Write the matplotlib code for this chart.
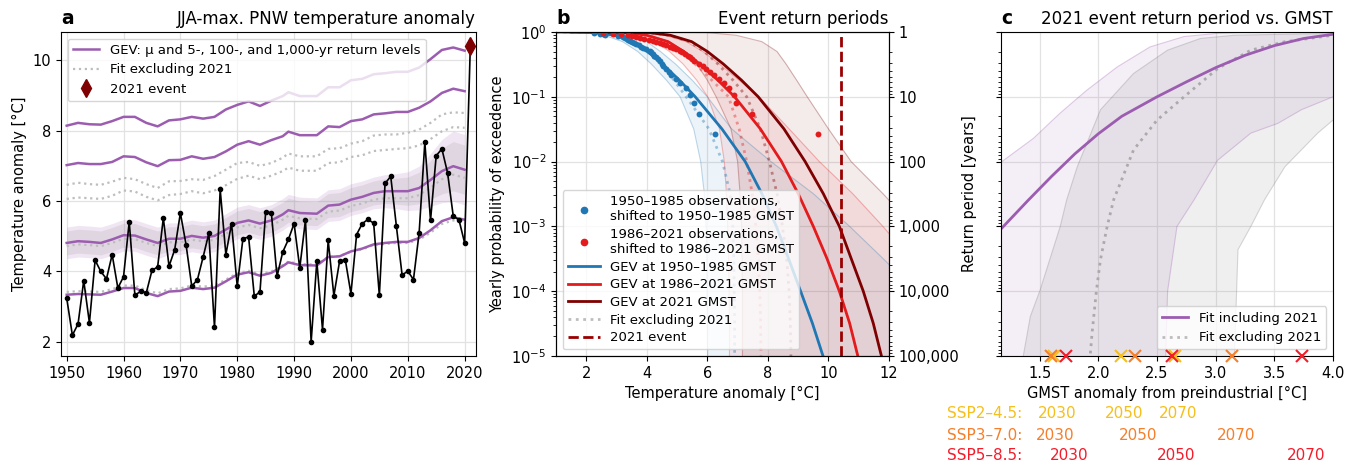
import numpy as np
import matplotlib
matplotlib.use("Agg")
from matplotlib import pyplot as plt
from matplotlib.lines import Line2D
from matplotlib import ticker
from matplotlib.transforms import blended_transform_factory

# ---------------- data: panel a ----------------
obs_years = np.arange(1950, 2022)
obs_temp = [3.25, 2.19, 2.51, 3.74, 2.54, 4.32, 4.00, 3.79, 4.48, 3.53,
            3.85, 5.41, 3.32, 3.44, 3.39, 4.03, 4.13, 5.52, 4.15, 4.62,
            5.66, 4.76, 3.58, 3.77, 4.41, 5.08, 2.41, 6.33, 4.48, 5.36,
            3.58, 4.93, 4.98, 3.30, 3.42, 5.69, 5.67, 3.86, 4.55, 4.91,
            5.36, 4.10, 5.46, 2.00, 4.29, 2.35, 4.88, 3.31, 4.29, 4.34,
            3.37, 5.05, 5.36, 5.48, 5.37, 3.32, 6.50, 6.70, 5.28, 3.90,
            4.01, 3.77, 5.10, 7.67, 5.45, 7.29, 7.48, 6.80, 5.57, 5.47,
            4.81, 10.40]
event_year = 2021
event_temp = 10.40

line_years = [1950, 1952, 1954, 1956, 1958, 1960, 1962, 1964, 1966, 1968,
              1970, 1972, 1974, 1976, 1978, 1980, 1982, 1984, 1986, 1988,
              1989, 1991, 1994, 1996, 1998, 2000, 2002, 2004, 2006, 2008,
              2010, 2012, 2014, 2016, 2018, 2020]
# GEV fit including 2021: mu, 5-, 100-, 1000-yr return levels
mu_incl = [3.34, 3.36, 3.35, 3.34, 3.43, 3.53, 3.53, 3.39, 3.30, 3.43, 3.45, 3.54,
           3.50, 3.54, 3.72, 3.91, 3.98, 3.88, 3.96, 4.15, 4.26, 4.18, 4.17, 4.41,
           4.43, 4.57, 4.65, 4.77, 4.81, 4.84, 4.84, 4.95, 5.17, 5.43, 5.54, 5.47]
rl5_incl = [4.81, 4.86, 4.84, 4.81, 4.91, 5.03, 5.02, 4.91, 4.81, 4.93, 4.93, 5.01,
            4.96, 5.01, 5.19, 5.38, 5.45, 5.36, 5.45, 5.62, 5.74, 5.66, 5.64, 5.87,
            5.90, 6.04, 6.12, 6.23, 6.28, 6.28, 6.28, 6.37, 6.60, 6.85, 6.99, 6.89]
rl100_incl = [7.02, 7.08, 7.05, 7.05, 7.11, 7.27, 7.25, 7.10, 6.99, 7.16, 7.17, 7.27,
              7.20, 7.25, 7.41, 7.60, 7.70, 7.60, 7.73, 7.84, 7.97, 7.87, 7.87, 8.12,
              8.10, 8.27, 8.32, 8.46, 8.49, 8.53, 8.53, 8.65, 8.83, 9.07, 9.19, 9.12]
rl1000_incl = [8.14, 8.22, 8.18, 8.17, 8.27, 8.39, 8.39, 8.22, 8.12, 8.29, 8.32, 8.39,
               8.34, 8.39, 8.60, 8.73, 8.83, 8.70, 8.85, 8.98, 9.09, 8.98, 8.98, 9.23,
               9.23, 9.43, 9.47, 9.60, 9.63, 9.67, 9.67, 9.79, 10.03, 10.29, 10.36, 10.27]
# fit excluding 2021
mu_excl = [3.42, 3.44, 3.43, 3.42, 3.50, 3.60, 3.60, 3.47, 3.38, 3.50, 3.52, 3.60,
           3.57, 3.60, 3.77, 3.95, 4.02, 3.93, 4.00, 4.18, 4.28, 4.21, 4.20, 4.42,
           4.44, 4.56, 4.63, 4.75, 4.78, 4.81, 4.81, 4.90, 5.10, 5.35, 5.45, 5.39]
rl5_excl = [4.72, 4.77, 4.75, 4.72, 4.81, 4.93, 4.92, 4.81, 4.72, 4.83, 4.83, 4.90,
            4.86, 4.90, 5.07, 5.25, 5.32, 5.23, 5.31, 5.47, 5.58, 5.51, 5.49, 5.70,
            5.73, 5.86, 5.93, 6.04, 6.08, 6.08, 6.08, 6.17, 6.38, 6.62, 6.75, 6.66]
rl100_excl = [6.06, 6.10, 6.08, 6.06, 6.15, 6.30, 6.27, 6.12, 6.02, 6.17, 6.20, 6.28,
              6.22, 6.30, 6.45, 6.63, 6.72, 6.62, 6.72, 6.85, 6.95, 6.86, 6.86, 7.08,
              7.10, 7.25, 7.30, 7.42, 7.45, 7.48, 7.50, 7.58, 7.76, 7.98, 8.10, 8.08]
rl1000_excl = [6.46, 6.52, 6.48, 6.46, 6.55, 6.66, 6.62, 6.48, 6.37, 6.56, 6.57, 6.62,
               6.60, 6.71, 6.89, 7.08, 7.11, 7.00, 7.08, 7.23, 7.35, 7.27, 7.27, 7.48,
               7.50, 7.63, 7.70, 7.86, 7.89, 7.89, 7.94, 8.03, 8.22, 8.46, 8.52, 8.50]
# half widths of the uncertainty bands around the 5-yr level
band_outer = [0.45, 0.45, 0.45, 0.45, 0.45, 0.45, 0.45, 0.45, 0.45, 0.45, 0.45, 0.45,
              0.45, 0.45, 0.45, 0.45, 0.45, 0.45, 0.45, 0.45, 0.45, 0.45, 0.45, 0.45,
              0.45, 0.45, 0.45, 0.45, 0.47, 0.50, 0.55, 0.62, 0.75, 0.90, 1.00, 1.00]
band_inner = [0.34, 0.34, 0.34, 0.34, 0.34, 0.34, 0.34, 0.34, 0.34, 0.34, 0.34, 0.34,
              0.34, 0.34, 0.34, 0.34, 0.34, 0.34, 0.34, 0.34, 0.34, 0.34, 0.34, 0.34,
              0.34, 0.34, 0.34, 0.34, 0.35, 0.37, 0.40, 0.45, 0.55, 0.65, 0.70, 0.70]

# ---------------- data: panel b ----------------
prob = [0.9999, 0.98, 0.89, 0.71, 0.5, 0.32, 0.18, 0.1, 0.032, 0.01,
        0.0032, 0.001, 3.2e-4, 1e-4, 3.2e-5, 1e-5]
gev_early = [1.0, 2.3, 2.95, 3.55, 4.02, 4.52, 5.08, 5.6, 6.48, 7.25, 7.8, 8.28, 8.68, 9.08, 9.47, 9.82]
gev_late = [1.5, 3.3, 4.0, 4.7, 5.22, 5.75, 6.35, 6.9, 7.75, 8.45, 9.0, 9.5, 9.95, 10.36, 10.7, 10.97]
gev_2021 = [2.2, 4.08, 4.78, 5.48, 6.0, 6.53, 7.13, 7.68, 8.53, 9.23, 9.83, 10.36, 10.75, 11.15, 11.48, 11.75]
gev_early_ex = [1.0, 2.3, 2.95, 3.55, 4.0, 4.45, 4.9, 5.3, 6.05, 6.5, 6.75, 6.84, 6.87, 6.89, 6.9, 6.9]
gev_late_ex = [1.5, 3.3, 4.0, 4.65, 5.15, 5.6, 6.15, 6.7, 7.05, 7.3, 7.48, 7.6, 7.68, 7.73, 7.76, 7.77]
gev_2021_ex = [2.2, 4.05, 4.75, 5.4, 5.9, 6.35, 6.85, 7.3, 7.75, 8.05, 8.3, 8.48, 8.62, 8.7, 8.74, 8.76]
ci_early_lo = [1.0, 1.9, 2.6, 3.2, 3.7, 4.15, 4.65, 5.1, 5.55, 5.78, 5.9, 5.96, 5.98, 5.99, 6.0, 6.01]
ci_early_hi = [1.5, 2.8, 3.4, 4.0, 4.45, 4.95, 5.5, 6.0, 6.8, 8.1, 9.5, 10.7, 11.8, 12.9, 14.0, 15.0]
ci_late_lo = [1.2, 2.8, 3.6, 4.25, 4.75, 5.2, 5.65, 6.01, 6.4, 6.56, 6.63, 6.67, 6.7, 6.72, 6.73, 6.73]
ci_late_hi = [2.0, 3.9, 4.6, 5.3, 5.85, 6.4, 7.05, 7.7, 8.7, 9.7, 10.8, 11.8, 12.7, 13.6, 14.5, 15.5]
ci_2021_lo = [1.8, 3.3, 4.1, 4.75, 5.25, 5.65, 6.0, 6.29, 6.78, 7.0, 7.08, 7.13, 7.15, 7.16, 7.16, 7.16]
ci_2021_hi = [3.0, 5.96, 6.95, 7.8, 8.3, 8.6, 8.95, 9.3, 10.0, 10.75, 11.8, 12.8, 13.8, 15.0, 16.0, 17.0]

# shifted observations, largest first
pts_early = [6.26, 5.71, 5.57, 5.41, 5.30, 5.08, 4.97, 4.80, 4.73, 4.64, 4.55, 4.51,
             4.44, 4.36, 4.31, 4.25, 4.20, 4.14, 4.09, 3.98, 3.89, 3.81, 3.74, 3.65,
             3.59, 3.52, 3.43, 3.38, 3.33, 3.28, 3.20, 3.05, 2.62, 2.55, 2.45, 2.25]
pts_late = [9.67, 7.47, 6.95, 6.88, 6.73, 6.56, 6.40, 6.23, 6.09, 5.96, 5.85, 5.74,
            5.57, 5.49, 5.41, 5.35, 5.27, 5.16, 5.08, 4.97, 4.86, 4.75, 4.64, 4.53,
            4.42, 4.31, 4.20, 4.07, 3.92, 3.78, 3.65, 3.52, 3.37, 3.15, 2.88, 2.55]

rp_ticks = [1, 10, 100, 1000, 10000, 100000]
rp_labels = ["1", "10", "100", "1,000", "10,000", "100,000"]

# ---------------- data: panel c ----------------
gmst_incl = [1.17, 1.4, 1.6, 1.8, 2.0, 2.2, 2.5, 2.75, 3.0, 3.25, 3.5, 3.75, 4.0]
logrp_incl = [3.04, 2.6, 2.23, 1.88, 1.57, 1.3, 1.0, 0.77, 0.55, 0.36, 0.21, 0.1, 0.035]
gmst_excl = [1.92, 1.93, 1.946, 1.983, 2.017, 2.075, 2.13, 2.3, 2.5, 2.73, 3.02, 3.3, 3.59, 4.0]
logrp_excl = [5.3, 5.0, 4.65, 4.0, 3.52, 3.0, 2.59, 1.82, 1.36, 1.0, 0.56, 0.28, 0.15, 0.05]
# uncertainty polygons (short-period edge, then long-period edge)
incl_top_x = [1.0, 1.17, 1.447, 1.675, 1.9, 2.16, 2.44, 2.73, 3.02, 3.3, 4.2]
incl_top_y = [2.4, 2.01, 1.64, 1.25, 0.9, 0.54, 0.23, 0.07, 0.02, 0.0, 0.0]
incl_bot_x = [1.0, 2.56, 2.574, 2.59, 2.67, 2.816, 3.016, 3.3, 3.53, 3.73, 4.0, 4.2]
incl_bot_y = [5.5, 5.5, 5.0, 4.0, 3.0, 2.59, 1.98, 1.56, 1.41, 1.2, 1.0, 0.9]
excl_top_x = [1.34, 1.36, 1.42, 1.504, 1.675, 1.73, 1.82, 2.018, 2.3, 2.59, 2.87, 3.16, 3.73, 4.2]
excl_top_y = [5.5, 5.0, 4.39, 3.98, 3.0, 2.59, 2.08, 1.2, 0.64, 0.28, 0.1, 0.05, 0.03, 0.02]
excl_bot_x = [3.15, 3.16, 3.19, 3.3, 3.416, 3.59, 3.87, 4.0, 4.2]
excl_bot_y = [5.5, 5.0, 3.36, 3.0, 2.59, 2.08, 1.56, 1.36, 1.1]

ssp_names = ["SSP2\u20134.5:", "SSP3\u20137.0:", "SSP5\u20138.5:"]
ssp_colors = ["#f5bf1c", "#f57f2a", "#f51c2a"]
ssp_years = ["2030", "2050", "2070"]
ssp_gmst = [[1.62, 2.19, 2.65],
            [1.60, 2.31, 3.14],
            [1.72, 2.63, 3.74]]

# ---------------- style ----------------
purple = "#9c5db0"
dotgray = "#bdbdbd"
blue = "#1f77b4"
red = "#e41a1c"
darkred = "#7f0000"
gridc = "#e2e2e2"
fs = 10.5

plt.rcParams["font.size"] = fs
fig = plt.figure(figsize=(13.57, 4.67), dpi=100)
bot, hgt = 111 / 467, 324 / 467
axa = fig.add_axes([61 / 1357, bot, 415 / 1357, hgt])
axb = fig.add_axes([556 / 1357, bot, 333 / 1357, hgt])
axc = fig.add_axes([1001 / 1357, bot, 332 / 1357, hgt])

# ---------------- panel a ----------------
rl5 = np.array(rl5_incl)
axa.fill_between(line_years, rl5 - np.array(band_outer), rl5 + np.array(band_outer),
                 color=purple, alpha=0.15, lw=0)
axa.fill_between(line_years, rl5 - np.array(band_inner), rl5 + np.array(band_inner),
                 color="gray", alpha=0.15, lw=0)
for d in [mu_excl, rl5_excl, rl100_excl, rl1000_excl]:
    axa.plot(line_years, d, ls=":", color=dotgray, lw=1.6)
for l in [mu_incl, rl5_incl, rl100_incl, rl1000_incl]:
    axa.plot(line_years, l, color=purple, lw=1.8)
axa.plot(obs_years, obs_temp, "-o", color="k", ms=3, lw=1.2)
axa.plot(event_year, event_temp, "d", color=darkred, ms=9, zorder=5)
axa.set_xlim(1949, 2022)
axa.set_ylim(1.6, 10.8)
axa.set_xticks(range(1950, 2021, 10))
axa.set_yticks([2, 4, 6, 8, 10])
axa.grid(color=gridc, lw=0.9)
axa.set_axisbelow(True)
axa.set_ylabel("Temperature anomaly [\u00b0C]")
axa.set_title("a", loc="left", fontweight="bold", fontsize=13.5)
axa.set_title("JJA-max. PNW temperature anomaly", loc="right", fontsize=12)
hand_a = [Line2D([], [], color=purple, lw=1.8),
          Line2D([], [], color=dotgray, ls=":", lw=1.6),
          Line2D([], [], color=darkred, marker="d", ls="none", ms=9)]
axa.legend(hand_a, ["GEV: \u03bc and 5-, 100-, and 1,000-yr return levels",
                    "Fit excluding 2021", "2021 event"],
           loc="upper left", fontsize=9.5)

# ---------------- panel b ----------------
for lo, hi, c in [(ci_early_lo, ci_early_hi, blue), (ci_late_lo, ci_late_hi, red),
                  (ci_2021_lo, ci_2021_hi, darkred)]:
    axb.fill_betweenx(prob, lo, hi, color=c, alpha=0.08, lw=0)
    axb.plot(lo, prob, color=c, alpha=0.3, lw=0.8)
    axb.plot(hi, prob, color=c, alpha=0.3, lw=0.8)
for t, c in [(gev_early_ex, blue), (gev_late_ex, red), (gev_2021_ex, darkred)]:
    axb.plot(t, prob, ls=":", color=c, alpha=0.4, lw=2)
for t, c in [(gev_early, blue), (gev_late, red), (gev_2021, darkred)]:
    axb.plot(t, prob, color=c, lw=2)
n = len(pts_early)
rank = np.arange(1, n + 1)
axb.scatter(pts_early, rank / (n + 1), s=18, color=blue, zorder=4, lw=0)
axb.scatter(pts_late, rank / (n + 1), s=18, color=red, zorder=4, lw=0)
axb.axvline(event_temp, color="#9a0000", ls="--", lw=2)
axb.set_yscale("log")
axb.set_ylim(1e-5, 1)
axb.set_xlim(1, 12)
axb.set_xticks([2, 4, 6, 8, 10, 12])
axb.grid(color=gridc, lw=0.9, which="major")
axb.set_axisbelow(True)
axb.set_xlabel("Temperature anomaly [\u00b0C]")
axb.set_ylabel("Yearly probability of exceedence")
axb.set_title("b", loc="left", fontweight="bold", fontsize=13.5)
axb.set_title("Event return periods", loc="right", fontsize=12)

ax2 = axb.twinx()
ax2.set_yscale("log")
ax2.set_ylim(1e5, 1)
ax2.set_yticks(rp_ticks)
ax2.yaxis.set_major_formatter(ticker.FixedFormatter(rp_labels))

hand_b = [Line2D([], [], color=blue, marker="o", ls="none", ms=4.5),
          Line2D([], [], color=red, marker="o", ls="none", ms=4.5),
          Line2D([], [], color=blue, lw=2),
          Line2D([], [], color=red, lw=2),
          Line2D([], [], color=darkred, lw=2),
          Line2D([], [], color=dotgray, ls=":", lw=2),
          Line2D([], [], color="#9a0000", ls="--", lw=2)]
lab_b = ["1950\u20131985 observations,\nshifted to 1950\u20131985 GMST",
         "1986\u20132021 observations,\nshifted to 1986\u20132021 GMST",
         "GEV at 1950\u20131985 GMST", "GEV at 1986\u20132021 GMST",
         "GEV at 2021 GMST", "Fit excluding 2021", "2021 event"]
axb.legend(hand_b, lab_b, loc="lower left", fontsize=9.5, handlelength=2.4,
           labelspacing=0.35)

# ---------------- panel c ----------------
axc.fill(np.r_[incl_top_x, incl_bot_x[::-1]],
         10 ** np.r_[incl_top_y, incl_bot_y[::-1]],
         facecolor=purple, alpha=0.1, edgecolor="none")
axc.plot(incl_top_x, 10 ** np.array(incl_top_y), color=purple, alpha=0.3, lw=0.8)
axc.plot(incl_bot_x[1:], 10 ** np.array(incl_bot_y[1:]), color=purple, alpha=0.3, lw=0.8)
axc.fill(np.r_[excl_top_x, excl_bot_x[::-1]],
         10 ** np.r_[excl_top_y, excl_bot_y[::-1]],
         facecolor="gray", alpha=0.12, edgecolor="none")
axc.plot(excl_top_x, 10 ** np.array(excl_top_y), color="gray", alpha=0.3, lw=0.8)
axc.plot(excl_bot_x, 10 ** np.array(excl_bot_y), color="gray", alpha=0.3, lw=0.8)
axc.plot(gmst_excl, 10 ** np.array(logrp_excl), ls=":", color="#aaaaaa", lw=2)
axc.plot(gmst_incl, 10 ** np.array(logrp_incl), color=purple, lw=2)
axc.set_yscale("log")
axc.set_ylim(1e5, 1)
axc.set_xlim(1.17, 4.0)
axc.set_xticks([1.5, 2.0, 2.5, 3.0, 3.5, 4.0])
axc.tick_params(axis="y", labelleft=False)
axc.grid(color=gridc, lw=0.9, which="major")
axc.set_axisbelow(True)
axc.set_xlabel("GMST anomaly from preindustrial [\u00b0C]")
axc.set_ylabel("Return period [years]", labelpad=12)
axc.set_title("c", loc="left", fontweight="bold", fontsize=13.5)
axc.set_title("2021 event return period vs. GMST", loc="right", fontsize=12)

for gm, c in zip(ssp_gmst, ssp_colors):
    axc.plot(gm, [1e5] * len(gm), "x", color=c, ms=8, mew=1.5,
             clip_on=False, zorder=6)

hand_c = [Line2D([], [], color=purple, lw=2),
          Line2D([], [], color=dotgray, ls=":", lw=2)]
axc.legend(hand_c, ["Fit including 2021", "Fit excluding 2021"],
           loc="lower right", fontsize=9.5)

trans = blended_transform_factory(axc.transData, fig.transFigure)
row_y = [1 - 413 / 467, 1 - 435 / 467, 1 - 455 / 467]
for name, c, gm, y in zip(ssp_names, ssp_colors, ssp_gmst, row_y):
    fig.text(947 / 1357, y, name, color=c, ha="left", va="center", fontsize=11)
    for g, yr in zip(gm, ssp_years):
        axc.text(g + 0.03, y, yr, color=c, transform=trans, ha="center",
                 va="center", fontsize=11)

fig.savefig("out.png", dpi=100)
